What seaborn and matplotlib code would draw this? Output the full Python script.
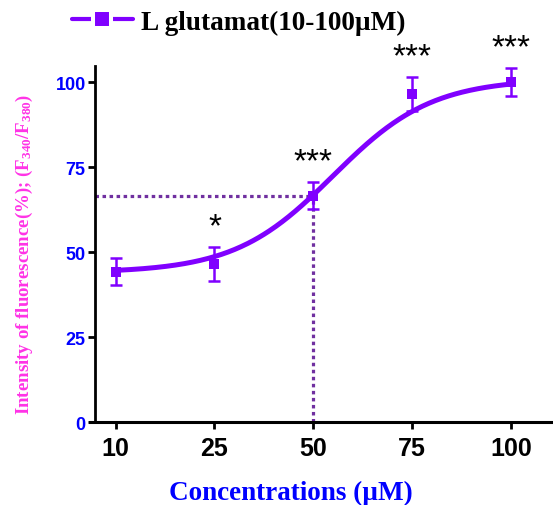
import numpy as np
import pandas as pd
import matplotlib
matplotlib.use("Agg")
import matplotlib.pyplot as plt
from matplotlib.lines import Line2D
from matplotlib import font_manager
import seaborn as sns

# ---- data ----
concentrations = ["10", "25", "50", "75", "100"]
mean_response = [44.3, 46.5, 66.7, 96.6, 100.0]
sem_response = [4.0, 5.0, 4.0, 5.0, 4.1]
significance = ["", "*", "***", "***", "***"]
# fitted sigmoid parameters (on category index)
fit_bottom = 44.0
fit_top = 101.0
fit_mid = 2.2
fit_slope = 0.5
ec_level = 66.6
ec_index = 2
series_label = "L glutamat(10-100µM)"
x_title = "Concentrations (µM)"
y_title = "Intensity of fluorescence(%); (F$_{340}$/F$_{380}$)"
y_ticks = [0, 25, 50, 75, 100]

sns.set_style("ticks")
plt.rcParams["font.family"] = ["Liberation Sans", "DejaVu Sans"]
plt.rcParams["text.color"] = "black"
plt.rcParams["axes.edgecolor"] = "black"
plt.rcParams["mathtext.fontset"] = "custom"
plt.rcParams["mathtext.rm"] = "Liberation Serif:bold"
plt.rcParams["mathtext.it"] = "Liberation Serif:bold"
plt.rcParams["mathtext.bf"] = "Liberation Serif:bold"

names = {f.name for f in font_manager.fontManager.ttflist}
narrow = "Liberation Sans Narrow" if "Liberation Sans Narrow" in names else "Liberation Sans"

VIOLET = "#8000FF"
DOT = "#7030A0"
MAGENTA = "#FF33E6"
BLUE = "#0000FF"

fig = plt.figure(figsize=(5.53, 5.06), dpi=100)
ax = fig.add_axes([90 / 553, (506 - 423.3) / 506, (553 - 90) / 553, (423.3 - 67) / 506])

idx = np.arange(len(concentrations))
df = pd.DataFrame({"idx": idx, "mean": mean_response, "sem": sem_response})

xs = np.linspace(0, len(concentrations) - 1, 300)
curve = fit_bottom + (fit_top - fit_bottom) / (1 + np.exp(-(xs - fit_mid) / fit_slope))
cdf = pd.DataFrame({"x": xs, "y": curve})

# dotted guides
spine_x = -0.2055
ax.plot([spine_x, ec_index], [ec_level, ec_level], color=DOT, lw=2.3,
        linestyle=(0, (1.1, 1.1)), zorder=2, clip_on=False)
ax.plot([ec_index, ec_index], [0, ec_level], color=DOT, lw=2.3,
        linestyle=(0, (1.1, 1.1)), zorder=2)

sns.lineplot(data=cdf, x="x", y="y", ax=ax, color=VIOLET, lw=3.6, zorder=3)
ax.errorbar(df["idx"], df["mean"], yerr=df["sem"], fmt="none", ecolor=VIOLET,
            elinewidth=1.8, capsize=4, capthick=1.8, zorder=4, clip_on=False)
sns.scatterplot(data=df, x="idx", y="mean", ax=ax, marker="s", s=60,
                color=VIOLET, edgecolor=VIOLET, linewidth=0, zorder=5, clip_on=False)

for i, (m, s, sig) in enumerate(zip(mean_response, sem_response, significance)):
    if sig:
        ax.text(i, m + s + 6.0, sig, ha="center", va="center", fontsize=24,
                color="black", family="Liberation Sans", clip_on=False)

sns.despine(ax=ax)
ax.spines["left"].set_position(("data", spine_x))
ax.spines["left"].set_linewidth(2.0)
ax.spines["bottom"].set_linewidth(2.2)
for sp in ax.spines.values():
    sp.set_color("black")

ax.set_xlim(-0.26, 4.426)
ax.set_ylim(0, 104.8)
ax.set_xticks(idx)
ax.set_xticklabels(concentrations, fontsize=18, fontweight="bold",
                   family="Liberation Sans", color="black")
ax.set_yticks(y_ticks)
ax.set_yticklabels([str(v) for v in y_ticks], fontsize=13, fontweight="bold",
                   family=narrow, color=BLUE)
ax.tick_params(axis="both", width=2.0, length=5, color="black")
ax.tick_params(axis="x", pad=5)
ax.tick_params(axis="y", pad=2)

ax.set_xlabel(x_title, fontsize=19.5, fontweight="bold", color=BLUE,
              family="Liberation Serif")
ax.xaxis.set_label_coords((291 - 90) / 463, -(493 - 423.3) / 356.3)
ax.xaxis.label.set_va("center")
ax.set_ylabel("")
fig.text(24 / 553, 1 - 254 / 506, y_title, rotation=90, ha="center", va="center",
         fontsize=13.6, fontweight="bold", color=MAGENTA, family="Liberation Serif")

handle = Line2D([], [], color=VIOLET, lw=3, marker="s", markersize=12.3,
                markerfacecolor=VIOLET, markeredgecolor="white", markeredgewidth=2.9)
leg = fig.legend([handle], [series_label], loc="center left",
                 bbox_to_anchor=(71.7 / 553, 1 - 23 / 506), frameon=False,
                 borderpad=0, borderaxespad=0, handlelength=2.24, handletextpad=0.3,
                 labelcolor="black",
                 prop={"family": "Liberation Serif", "weight": "bold", "size": 19.6})

fig.savefig("out.png", dpi=100)
